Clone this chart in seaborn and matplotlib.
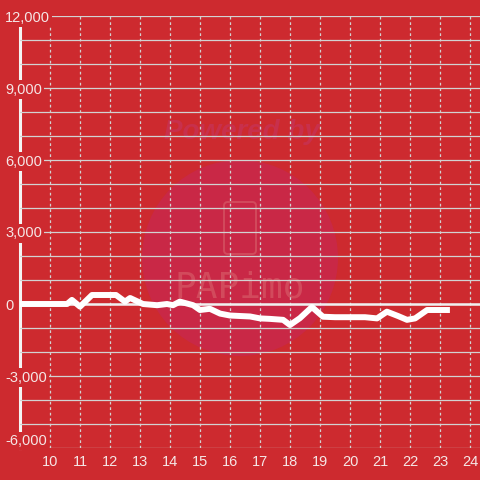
import matplotlib
matplotlib.use("Agg")
import matplotlib.pyplot as plt
import seaborn as sns
import pandas as pd
from matplotlib.patches import Circle, FancyBboxPatch

# hourly balance curve (hour of day, value)
hours = [9.0, 10.57, 10.73, 11.0, 11.4, 11.67, 12.2, 12.5, 12.67, 13.1, 13.57,
         13.9, 14.1, 14.33, 14.77, 15.0, 15.33, 15.67, 16.0, 16.33, 16.67,
         17.0, 17.33, 17.77, 18.0, 18.33, 18.73, 19.1, 19.5, 20.0, 20.5,
         20.9, 21.23, 21.6, 21.9, 22.17, 22.57, 23.0, 23.33]
values = [0, 0, 170, -110, 375, 375, 375, 100, 250, 0, -50,
          0, -50, 100, -50, -250, -200, -400, -480, -500, -520,
          -600, -620, -660, -875, -590, -125, -530, -550, -550, -550,
          -600, -320, -500, -660, -600, -250, -250, -250]

x_ticks = list(range(10, 25))
y_ticks = [-6000, -3000, 0, 3000, 6000, 9000, 12000]
y_grid = list(range(-6000, 12001, 1000))

RED = "#cd2a2f"
TEXT = "#f5e6e6"
GRID = "#d2d2d2"

sns.set_theme(style="white")
plt.rcParams["font.family"] = ["Liberation Sans", "DejaVu Sans"]

df = pd.DataFrame({"hour": hours, "value": values})

fig = plt.figure(figsize=(4.8, 4.8), dpi=100, facecolor=RED)
ax = fig.add_axes([20 / 480, 32 / 480, 460 / 480, 432 / 480])
ax.set_facecolor(RED)

# watermark
ax.add_patch(Circle((240 / 480, 1 - 258 / 480), 98 / 480, transform=fig.transFigure,
                    facecolor="#c92846", edgecolor="none", zorder=0.2))
ax.text(242 / 480, 1 - 132 / 480, "Powered by", transform=fig.transFigure,
        ha="center", va="center", fontsize=20, fontweight="bold", style="italic",
        color="#c8304c", zorder=0.3)
ax.add_patch(FancyBboxPatch((224 / 480, 1 - 254 / 480), 32 / 480, 52 / 480,
                            boxstyle="round,pad=0,rounding_size=0.008",
                            transform=fig.transFigure, facecolor="none",
                            edgecolor="#d24a5c", lw=1.4, zorder=0.3))
ax.text(240 / 480, 1 - 287 / 480, "PAPimo", transform=fig.transFigure,
        ha="center", va="center", fontsize=26, family="DejaVu Sans Mono",
        color="#d24a5c", zorder=0.3)

sns.lineplot(data=df, x="hour", y="value", ax=ax, color="white", linewidth=4.3,
             zorder=3, solid_joinstyle="round", solid_capstyle="butt")
ax.axhline(0, color="#f0f0f0", lw=1.8, zorder=1.5)

ax.set_xlim(9, 24.333)
ax.set_ylim(-6000, 12000)
ax.set_xticks(x_ticks)
ax.set_xticklabels([str(h) for h in x_ticks])
ax.set_yticks(y_grid, minor=True)
ax.set_yticks(y_ticks)
ax.set_yticklabels([f"{v:,}" for v in y_ticks])

ax.set_axisbelow(True)
ax.grid(axis="y", which="both", color=GRID, lw=0.9, linestyle="-")
ax.grid(axis="x", which="major", color=GRID, lw=0.9, linestyle=(0, (2.2, 2.2)))

ax.tick_params(which="both", length=0)
ax.tick_params(axis="x", pad=5, labelsize=10.5, labelcolor=TEXT)
ax.tick_params(axis="y", pad=10.8, labelsize=10.5, labelcolor=TEXT)
for i, lab in enumerate(ax.get_yticklabels()):
    lab.set_ha("left")
    lab.set_bbox(dict(facecolor=RED, edgecolor="none", pad=1.5))
    if i == 0:
        lab.set_va("bottom")

for side in ["top", "right", "bottom"]:
    ax.spines[side].set_visible(False)
ax.spines["left"].set_color("#f4f4f4")
ax.spines["left"].set_linewidth(2.2)
ax.spines["left"].set_zorder(0.4)

ax.set_xlabel("")
ax.set_ylabel("")

fig.savefig("out.png", dpi=100, facecolor=RED)
